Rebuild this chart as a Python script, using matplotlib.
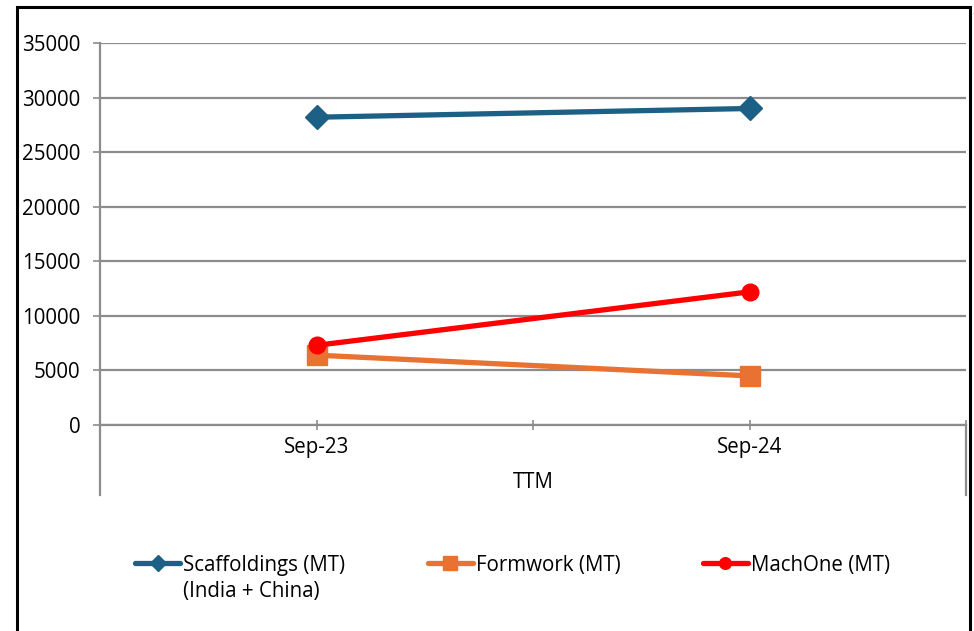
import matplotlib
matplotlib.use("Agg")
import matplotlib.pyplot as plt
from matplotlib.patches import Rectangle

# ---- data ----
periods = ["Sep-23", "Sep-24"]
group_label = "TTM"
scaffoldings = [28200, 29000]
formwork = [6400, 4500]
machone = [7300, 12200]

plt.rcParams['font.family'] = ['Open Sans', 'DejaVu Sans']
gray = '#8c8c8c'
fs = 14.8

fig = plt.figure(figsize=(9.74, 6.31), dpi=100)
W, H = 974, 631
ax = fig.add_axes([100 / W, (H - 425) / H, 866 / W, 382 / H])

x = list(range(len(periods)))
ax.plot(x, scaffoldings, color='#1c6085', lw=3.8, marker='D', ms=12,
        label='Scaffoldings (MT)', solid_capstyle='round')
ax.plot(x, formwork, color='#e97132', lw=3.8, marker='s', ms=14,
        label='Formwork (MT)', solid_capstyle='round')
ax.plot(x, machone, color='#ff0000', lw=3.8, marker='o', ms=12,
        label='MachOne (MT)', solid_capstyle='round')

ax.set_xlim(-0.5, len(periods) - 0.5)
ax.set_ylim(0, 35000)
ax.set_yticks(range(0, 35001, 5000))
ax.yaxis.grid(True, color=gray, lw=1.6)
ax.set_axisbelow(True)

for s in ['top', 'right']:
    ax.spines[s].set_visible(False)
for s in ['left', 'bottom']:
    ax.spines[s].set_color(gray)
    ax.spines[s].set_linewidth(1.6)

ax.tick_params(axis='y', length=5, width=1.2, color=gray, pad=9,
               labelsize=fs, labelcolor='black')
ax.set_xticks(x)
ax.set_xticklabels(periods)
ax.set_xticks([-0.5, 0.5, 1.5], minor=True)
ax.tick_params(axis='x', which='both', direction='inout', length=7,
               width=1.2, color=gray, labelsize=fs, pad=5)

# multi-level category axis separators and group label
trans = ax.get_xaxis_transform()
for xv in [-0.5, len(periods) - 0.5]:
    ax.plot([xv, xv], [0, -70 / 382], color=gray, lw=1.6,
            transform=trans, clip_on=False)
ax.text(0.5, -57 / 382, group_label, transform=ax.transAxes,
        ha='center', va='center', fontsize=fs)

# legend
leg = fig.legend(loc='center left', bbox_to_anchor=(135 / W, (H - 565) / H),
                 ncol=3, frameon=False, fontsize=fs, handlelength=2.2,
                 handletextpad=0.15, columnspacing=4.0, borderpad=0,
                 borderaxespad=0, markerscale=0.7)
fig.canvas.draw()
bb = leg.get_texts()[0].get_window_extent()
fig.text(bb.x0 / W, (H - 591) / H, "(India + China)", fontsize=fs,
         ha='left', va='center')

# outer frame
fig.patches.append(Rectangle((17 / W, -0.02), 953 / W, (H - 7) / H + 0.02,
                             transform=fig.transFigure, fill=False,
                             edgecolor='black', lw=2.2))

fig.savefig('out.png', dpi=100)
